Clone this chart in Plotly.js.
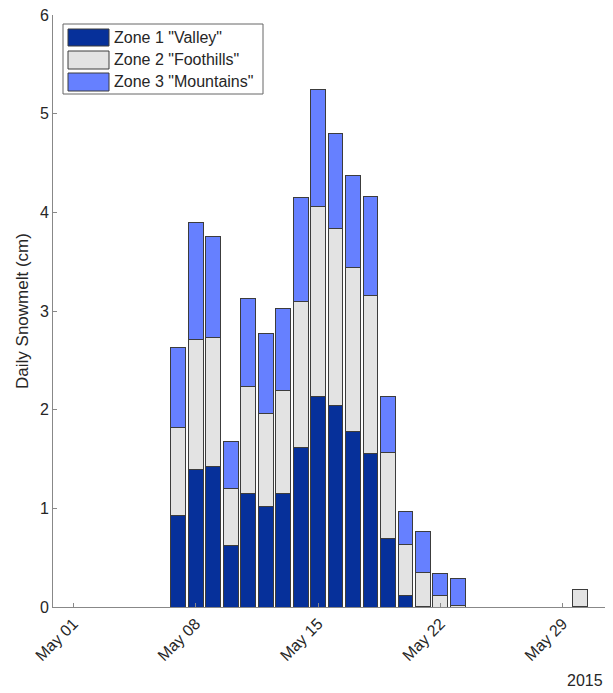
<!DOCTYPE html>
<html>
<head>
<meta charset="utf-8">
<script src="https://cdn.plot.ly/plotly-3.0.1.min.js"></script>
<style>html,body{margin:0;padding:0;background:#fff;}#chart{width:613px;height:693px;}</style>
</head>
<body>
<div id="chart"></div>
<script>
// Data (cm of daily snowmelt per zone)
const dates = ['2015-05-07','2015-05-08','2015-05-09','2015-05-10','2015-05-11','2015-05-12','2015-05-13','2015-05-14','2015-05-15','2015-05-16','2015-05-17','2015-05-18','2015-05-19','2015-05-20','2015-05-21','2015-05-22','2015-05-23','2015-05-30'];
const zone1 = [0.93,1.39,1.42,0.62,1.15,1.02,1.15,1.62,2.13,2.04,1.78,1.56,0.69,0.12,0.01,0.00,0.00,0.01];
const zone2 = [0.89,1.32,1.31,0.58,1.08,0.94,1.04,1.48,1.93,1.80,1.66,1.60,0.88,0.51,0.34,0.12,0.02,0.17];
const zone3 = [0.81,1.19,1.03,0.48,0.90,0.81,0.84,1.05,1.19,0.96,0.93,1.00,0.56,0.34,0.42,0.22,0.27,0.00];
const seriesNames = ['Zone 1 "Valley"','Zone 2 "Foothills"','Zone 3 "Mountains"'];
const yearLabel = '2015';

const colors = ['#06309a','#e3e3e3','#6680ff'];
const W = 613, H = 693, L = 53, R = 8, T = 15, B = 86;
const pw = W - L - R, ph = H - T - B;
const px = x => (x - L) / pw;
const py = y => (H - B - y) / ph;
const barW = 0.85 * 86400000;
const FONT = 'Liberation Sans, Arial, sans-serif';

const series = [zone1, zone2, zone3];
const traces = series.map((vals, i) => ({
  type: 'bar', x: dates, y: vals, name: seriesNames[i],
  width: dates.map(() => barW),
  marker: {color: colors[i], line: {color: '#3c3c3c', width: 1}},
  showlegend: false, hoverinfo: 'x+y+name'
}));

// manual legend with large swatches
const shapes = [{type:'rect', xref:'paper', yref:'paper', x0:px(63), x1:px(263), y0:py(94), y1:py(24),
  fillcolor:'#ffffff', line:{color:'#666', width:1}}];
const annotations = [];
const swY = [[29,46],[51,69],[73,91]];
swY.forEach((s, i) => {
  shapes.push({type:'rect', xref:'paper', yref:'paper', x0:px(68), x1:px(109), y0:py(s[1]), y1:py(s[0]),
    fillcolor: colors[i], line:{color:'#3c3c3c', width:1}});
  annotations.push({xref:'paper', yref:'paper', x:px(112), y:py((s[0]+s[1])/2), text: seriesNames[i],
    showarrow:false, xanchor:'left', yanchor:'middle', font:{family:FONT, size:16, color:'#262626'}});
});
annotations.push({xref:'paper', yref:'paper', x:1, y:py(680), text: yearLabel, showarrow:false,
  xanchor:'right', yanchor:'middle', font:{family:FONT, size:16, color:'#262626'}});

const layout = {
  width: W, height: H,
  margin: {l: L, r: R, t: T, b: B, pad: 0},
  paper_bgcolor: '#fff', plot_bgcolor: '#fff',
  barmode: 'stack', bargap: 0,
  font: {family: FONT, size: 16, color: '#262626'},
  xaxis: {
    type: 'date', range: ['2015-04-29 20:00', '2015-05-31 10:00'],
    tick0: '2015-05-01', dtick: 7 * 86400000, tickformat: '%b %d', tickangle: -45,
    ticks: 'inside', ticklen: 4, tickcolor: '#888', showgrid: false, zeroline: false,
    showline: true, linecolor: '#888', linewidth: 1,
    tickfont: {size: 16, color: '#262626'}
  },
  yaxis: {
    range: [0, 6], dtick: 1, ticks: 'inside', ticklen: 4, tickcolor: '#888',
    showgrid: false, zeroline: false, showline: true, linecolor: '#888', linewidth: 1,
    tickfont: {size: 16, color: '#262626'},
    title: {text: 'Daily Snowmelt (cm)', font: {size: 17, color: '#262626'}, standoff: 6}
  },
  shapes: shapes, annotations: annotations
};

Plotly.newPlot('chart', traces, layout, {displayModeBar: false, staticPlot: true});
</script>
</body>
</html>
